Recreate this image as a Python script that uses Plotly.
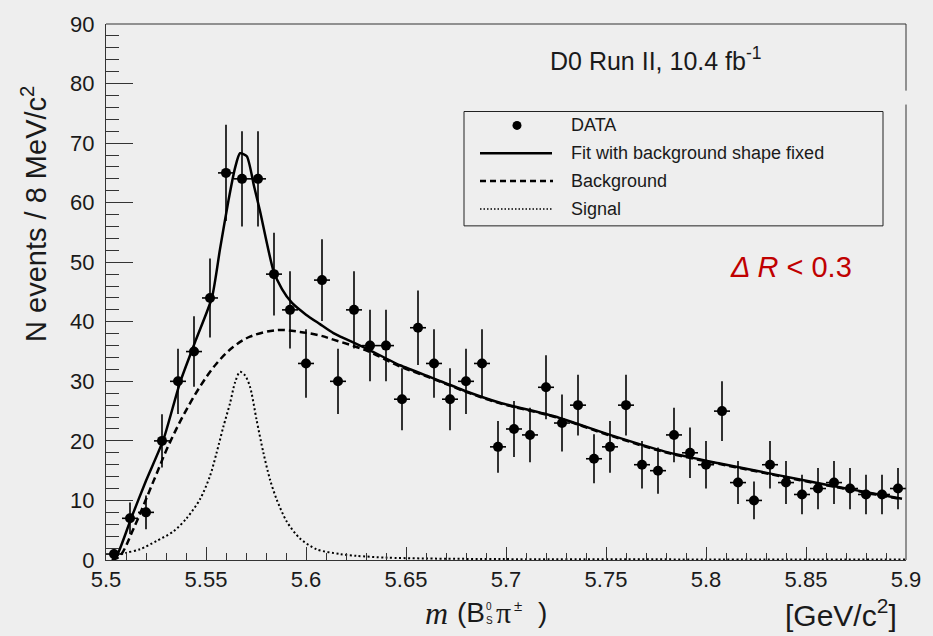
import numpy as np
import plotly.graph_objects as go

# ---------------- data ----------------
bin_centers = [5.504, 5.512, 5.520, 5.528, 5.536, 5.544, 5.552, 5.560, 5.568, 5.576,
               5.584, 5.592, 5.600, 5.608, 5.616, 5.624, 5.632, 5.640, 5.648, 5.656,
               5.664, 5.672, 5.680, 5.688, 5.696, 5.704, 5.712, 5.720, 5.728, 5.736,
               5.744, 5.752, 5.760, 5.768, 5.776, 5.784, 5.792, 5.800, 5.808, 5.816,
               5.824, 5.832, 5.840, 5.848, 5.856, 5.864, 5.872, 5.880, 5.888, 5.896]
counts = [1, 7, 8, 20, 30, 35, 44, 65, 64, 64,
          48, 42, 33, 47, 30, 42, 36, 36, 27, 39,
          33, 27, 30, 33, 19, 22, 21, 29, 23, 26,
          17, 19, 26, 16, 15, 21, 18, 16, 25, 13,
          10, 16, 13, 11, 12, 13, 12, 11, 11, 12]
bin_half_width = 0.004

fit_x = [5.503, 5.5054, 5.5128, 5.520, 5.5287, 5.537, 5.545, 5.553, 5.557, 5.5612,
         5.5645, 5.567, 5.5704, 5.574, 5.577, 5.5837, 5.588, 5.5929, 5.600, 5.607,
         5.6137, 5.6303, 5.647, 5.6637, 5.6803, 5.697, 5.7245, 5.752, 5.7795, 5.807,
         5.822, 5.847, 5.872, 5.898]
fit_y = [0.0, 0.7, 7.2, 13.3, 20.2, 29.8, 37.0, 44.1, 52.2, 60.3,
         65.8, 68.3, 67.8, 62.8, 58.6, 48.6, 45.5, 43.2, 41.2, 39.6,
         38.1, 35.5, 32.7, 30.5, 28.3, 26.4, 24.1, 21.0, 18.2, 16.2,
         15.2, 13.5, 11.9, 10.3]

bkg_x = [5.503, 5.507, 5.5137, 5.5237, 5.5312, 5.5387, 5.547, 5.5553, 5.5637, 5.572,
         5.5853, 5.597, 5.607, 5.6137, 5.630, 5.647, 5.6637, 5.6803, 5.697, 5.7245,
         5.752, 5.7795, 5.807, 5.822, 5.847, 5.872, 5.898]
bkg_y = [0.0, 0.7, 5.2, 13.2, 19.2, 24.3, 29.1, 33.0, 35.8, 37.5,
         38.6, 38.3, 37.7, 37.0, 35.2, 32.5, 30.4, 28.2, 26.3, 24.0,
         20.9, 18.1, 16.1, 15.1, 13.4, 11.8, 10.2]

sig_x = [5.503, 5.510, 5.517, 5.5253, 5.5337, 5.5403, 5.547, 5.552, 5.5553, 5.5587,
         5.562, 5.5645, 5.567, 5.5695, 5.572, 5.5753, 5.5787, 5.582, 5.5853, 5.5903,
         5.597, 5.6053, 5.617, 5.6253, 5.640, 5.660, 5.700, 5.800, 5.900]
sig_y = [0.6, 1.2, 1.8, 3.2, 4.8, 7.0, 10.2, 14.1, 18.0, 22.4,
         26.3, 29.8, 31.6, 31.0, 29.1, 23.5, 18.0, 13.5, 10.2, 6.5,
         3.6, 1.8, 1.0, 0.7, 0.4, 0.25, 0.15, 0.1, 0.1]

x_tick_vals = [5.5, 5.55, 5.6, 5.65, 5.7, 5.75, 5.8, 5.85, 5.9]
x_tick_text = ["5.5", "5.55", "5.6", "5.65", "5.7", "5.75", "5.8", "5.85", "5.9"]
y_tick_vals = [0, 10, 20, 30, 40, 50, 60, 70, 80, 90]
y_tick_text = ["0", "10", "20", "30", "40", "50", "60", "70", "80", "90"]

legend_labels = ["DATA", "Fit with background shape fixed", "Background", "Signal"]

# ---------------- layout geometry ----------------
W, H = 933, 636
L, R, T, B = 106, 27, 21, 76
PW, PH = W - L - R, H - T - B
BG = "#eeeeee"
SANS = "Liberation Sans, Arial, Helvetica, sans-serif"
SERIF = "Liberation Serif, Times New Roman, serif"
INK = "#1a1a1a"


def px(x):
    return (x - L) / PW


def py(y):
    return (H - B - y) / PH


errors = np.sqrt(np.array(counts, dtype=float))

fig = go.Figure()

fig.add_trace(go.Scatter(
    x=sig_x, y=sig_y, mode="lines", line_shape="spline",
    line=dict(color="black", width=2, dash="2px,2.5px", smoothing=0.8),
    showlegend=False, hoverinfo="skip"))
fig.add_trace(go.Scatter(
    x=bkg_x, y=bkg_y, mode="lines", line_shape="spline",
    line=dict(color="black", width=2.5, dash="7px,4px"),
    showlegend=False, hoverinfo="skip"))
fig.add_trace(go.Scatter(
    x=fit_x, y=fit_y, mode="lines", line_shape="spline",
    line=dict(color="black", width=2.5, smoothing=0.6),
    showlegend=False, hoverinfo="skip"))
fig.add_trace(go.Scatter(
    x=bin_centers, y=counts, mode="markers",
    marker=dict(color="black", size=10),
    error_y=dict(type="data", array=errors, color="black", thickness=1.6, width=0),
    error_x=dict(type="constant", value=bin_half_width, color="black", thickness=1.6, width=0),
    showlegend=False))

shapes = []
# frame: top and (broken) right edge
fc = "#333333"
shapes.append(dict(type="line", xref="paper", yref="paper", x0=0, x1=1, y0=1, y1=1,
                   line=dict(color=fc, width=1)))
shapes.append(dict(type="line", xref="paper", yref="paper", x0=1, x1=1, y0=0, y1=py(102),
                   line=dict(color=fc, width=1)))
shapes.append(dict(type="line", xref="paper", yref="paper", x0=1, x1=1, y0=py(88), y1=1,
                   line=dict(color=fc, width=1)))

# legend box
shapes.append(dict(type="rect", xref="paper", yref="paper",
                   x0=px(464), x1=px(883), y0=py(224), y1=py(109),
                   line=dict(color="#222222", width=1), fillcolor=BG, layer="below"))
rows = [123, 151, 179, 207]
# legend symbols
shapes.append(dict(type="circle", xref="paper", yref="paper",
                   xsizemode="pixel", ysizemode="pixel",
                   xanchor=px(517), yanchor=py(rows[0]), x0=-4.5, x1=4.5, y0=-4.5, y1=4.5,
                   fillcolor="black", line=dict(color="black", width=0)))
shapes.append(dict(type="line", xref="paper", yref="paper", x0=px(480), x1=px(552),
                   y0=py(rows[1]), y1=py(rows[1]), line=dict(color="black", width=2.5)))
shapes.append(dict(type="line", xref="paper", yref="paper", x0=px(480), x1=px(553),
                   y0=py(rows[2]), y1=py(rows[2]), line=dict(color="black", width=2.5, dash="6px,4px")))
shapes.append(dict(type="line", xref="paper", yref="paper", x0=px(480), x1=px(553),
                   y0=py(rows[3]), y1=py(rows[3]), line=dict(color="black", width=1.5, dash="1.5px,2px")))

annotations = []
for lab, r in zip(legend_labels, rows):
    annotations.append(dict(text=lab, xref="paper", yref="paper", x=px(569), y=py(r),
                            xanchor="left", yanchor="middle", showarrow=False,
                            font=dict(family=SANS, size=18, color=INK)))

# header text
annotations.append(dict(text="D0 Run II, 10.4 fb<sup>-1</sup>", xref="paper", yref="paper",
                        x=px(548), y=py(56), xanchor="left", yanchor="middle", showarrow=False,
                        font=dict(family=SANS, size=25, color=INK)))
# Delta R
annotations.append(dict(text="<i>Δ R</i> < 0.3", xref="paper", yref="paper",
                        x=px(791), y=py(265), xanchor="center", yanchor="middle", showarrow=False,
                        font=dict(family=SANS, size=29, color="#c00000")))

# y title
annotations.append(dict(text="N events / 8 MeV/c<sup>2</sup>", xref="paper", yref="paper",
                        x=px(34), y=py(212), xanchor="center", yanchor="middle", showarrow=False,
                        textangle=-90, font=dict(family=SANS, size=29, color=INK)))

# x title pieces
ybase = 613
annotations.append(dict(text="<i>m</i>", xref="paper", yref="paper", x=px(423), y=py(ybase),
                        xanchor="left", yanchor="middle", showarrow=False,
                        font=dict(family=SERIF, size=32, color=INK)))
annotations.append(dict(text="(B", xref="paper", yref="paper", x=px(455), y=py(ybase),
                        xanchor="left", yanchor="middle", showarrow=False,
                        font=dict(family=SANS, size=28, color=INK)))
annotations.append(dict(text="0", xref="paper", yref="paper", x=px(484), y=py(607),
                        xanchor="left", yanchor="middle", showarrow=False,
                        font=dict(family=SANS, size=10, color=INK)))
annotations.append(dict(text="S", xref="paper", yref="paper", x=px(484), y=py(621),
                        xanchor="left", yanchor="middle", showarrow=False,
                        font=dict(family=SANS, size=10, color=INK)))
annotations.append(dict(text="π", xref="paper", yref="paper", x=px(494), y=py(ybase),
                        xanchor="left", yanchor="middle", showarrow=False,
                        font=dict(family=SERIF, size=30, color=INK)))
annotations.append(dict(text="±", xref="paper", yref="paper", x=px(512), y=py(606),
                        xanchor="left", yanchor="middle", showarrow=False,
                        font=dict(family=SANS, size=15, color=INK)))
annotations.append(dict(text=")", xref="paper", yref="paper", x=px(536), y=py(ybase),
                        xanchor="left", yanchor="middle", showarrow=False,
                        font=dict(family=SANS, size=28, color=INK)))
annotations.append(dict(text="[GeV/c<sup>2</sup>]", xref="paper", yref="paper", x=px(899), y=py(ybase),
                        xanchor="right", yanchor="middle", showarrow=False,
                        font=dict(family=SANS, size=30, color=INK)))

fig.update_layout(
    width=W, height=H,
    margin=dict(l=L, r=R, t=T, b=B, pad=0),
    paper_bgcolor=BG, plot_bgcolor=BG,
    showlegend=False,
    shapes=shapes, annotations=annotations,
    xaxis=dict(range=[5.5, 5.9], showgrid=False, zeroline=False,
               showline=True, linecolor=fc, linewidth=1, mirror=False,
               ticks="inside", ticklen=13, tickcolor=fc, tickwidth=1,
               tickvals=x_tick_vals, ticktext=x_tick_text,
               minor=dict(dtick=0.01, tick0=5.5, ticks="inside", ticklen=7, tickcolor=fc, showgrid=False),
               tickfont=dict(family=SANS, size=22, color=INK)),
    yaxis=dict(range=[0, 90], showgrid=False, zeroline=False,
               showline=True, linecolor=fc, linewidth=1, mirror=False,
               ticks="inside", ticklen=27, tickcolor=fc, tickwidth=1,
               tickvals=y_tick_vals, ticktext=y_tick_text, ticklabelstandoff=6,
               minor=dict(dtick=2, tick0=0, ticks="inside", ticklen=13, tickcolor=fc, showgrid=False),
               tickfont=dict(family=SANS, size=22, color=INK)),
)

fig.write_html("out.html")
